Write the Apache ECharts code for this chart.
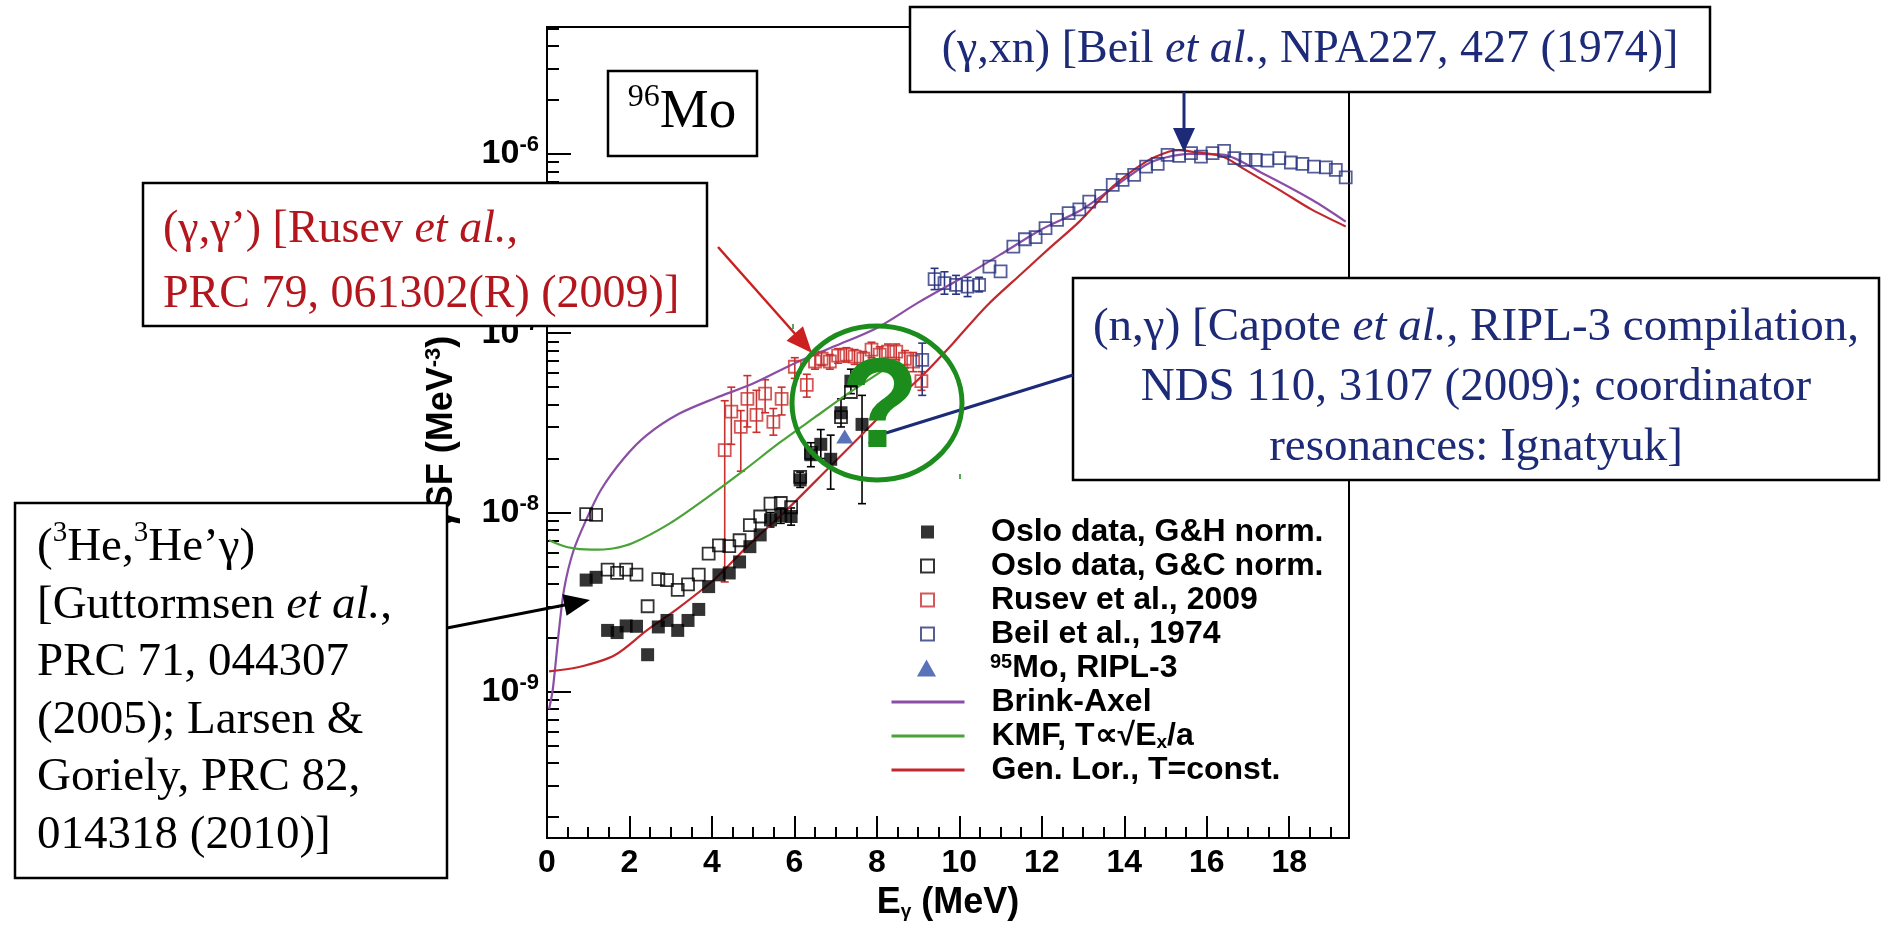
<!DOCTYPE html>
<html>
<head>
<meta charset="utf-8">
<script src="https://cdn.jsdelivr.net/npm/echarts@6/dist/echarts.min.js"></script>
<style>
  html, body { margin: 0; padding: 0; background: #fff; }
  #chart { width: 1884px; height: 930px; }
</style>
</head>
<body>
<div id="chart"></div>
<script>
// ---- axis ticks (photon energy in MeV, strength in MeV^-3) ----
const xMajor = [0, 2, 4, 6, 8, 10, 12, 14, 16, 18];
const xMinor = [0.5, 1, 1.5, 2.5, 3, 3.5, 4.5, 5, 5.5, 6.5, 7, 7.5, 8.5, 9, 9.5,
                10.5, 11, 11.5, 12.5, 13, 13.5, 14.5, 15, 15.5, 16.5, 17, 17.5, 18.5, 19];
const yMajor = [1e-9, 1e-8, 1e-7, 1e-6];
const yMinor = [2e-10, 3e-10, 4e-10, 5e-10, 6e-10, 7e-10, 8e-10, 9e-10,
                2e-9, 3e-9, 4e-9, 5e-9, 6e-9, 7e-9, 8e-9, 9e-9,
                2e-8, 3e-8, 4e-8, 5e-8, 6e-8, 7e-8, 8e-8, 9e-8,
                2e-7, 3e-7, 4e-7, 5e-7, 6e-7, 7e-7, 8e-7, 9e-7,
                2e-6, 3e-6, 4e-6, 5e-6];

// ---- measured strength functions [E, f] ----
const osloGH = [
  [0.95, 4.2e-9], [1.19, 4.35e-9], [1.47, 2.2e-9], [1.70, 2.14e-9], [1.92, 2.33e-9],
  [2.17, 2.32e-9], [2.44, 1.61e-9], [2.70, 2.3e-9], [2.91, 2.5e-9], [3.17, 2.2e-9],
  [3.42, 2.5e-9], [3.68, 2.88e-9], [3.92, 3.86e-9], [4.17, 4.49e-9], [4.42, 4.6e-9],
  [4.67, 5.3e-9], [4.92, 6.45e-9], [5.17, 7.5e-9], [5.42, 9.1e-9], [5.67, 9.6e-9],
  [5.92, 9.5e-9], [6.14, 1.52e-8], [6.40, 2.1e-8], [6.64, 2.4e-8], [6.88, 1.98e-8],
  [7.13, 3.6e-8], [7.37, 5.4e-8], [7.64, 3.1e-8]
];
const osloGHErr = [
  [5.42, 8.3e-9, 1.0e-8], [5.67, 8.7e-9, 1.06e-8], [5.92, 8.5e-9, 1.06e-8],
  [6.14, 1.38e-8, 1.68e-8], [6.40, 1.8e-8, 2.45e-8], [6.64, 2.0e-8, 2.9e-8],
  [6.88, 1.35e-8, 2.7e-8], [7.13, 3.0e-8, 4.3e-8], [7.37, 4.6e-8, 6.3e-8],
  [7.64, 1.12e-8, 4.5e-8]
];
const osloGC = [
  [0.95, 9.8e-9], [1.19, 9.7e-9], [1.47, 4.8e-9], [1.70, 4.6e-9], [1.92, 4.8e-9],
  [2.17, 4.5e-9], [2.44, 3.0e-9], [2.70, 4.25e-9], [2.91, 4.2e-9], [3.17, 3.7e-9],
  [3.42, 3.97e-9], [3.68, 4.5e-9], [3.92, 5.9e-9], [4.17, 6.55e-9], [4.42, 6.5e-9],
  [4.67, 7.0e-9], [4.92, 8.5e-9], [5.17, 9.5e-9], [5.42, 1.12e-8], [5.67, 1.13e-8],
  [5.92, 1.07e-8], [6.14, 1.58e-8], [6.40, 2.15e-8], [7.13, 3.4e-8], [7.37, 4.7e-8]
];
const rusev = [
  [4.31, 2.23e-8], [4.47, 3.65e-8], [4.70, 3.0e-8], [4.86, 4.3e-8], [5.08, 3.5e-8],
  [5.29, 4.6e-8], [5.49, 3.2e-8], [5.69, 4.3e-8], [6.01, 6.5e-8], [6.30, 5.15e-8],
  [6.50, 6.95e-8], [6.66, 7.2e-8], [6.86, 6.95e-8], [7.06, 7.5e-8], [7.26, 7.6e-8],
  [7.46, 7.4e-8], [7.67, 7.2e-8], [7.87, 8.1e-8], [8.07, 7.6e-8], [8.27, 7.9e-8],
  [8.47, 7.9e-8], [8.68, 7.2e-8], [8.88, 6.95e-8], [9.08, 5.4e-8]
];
const rusevErr = [
  [4.31, 4.1e-9, 4.2e-8], [4.47, 2.4e-8, 5.0e-8], [4.70, 1.7e-8, 3.7e-8],
  [4.86, 3.0e-8, 5.8e-8], [5.08, 2.8e-8, 4.8e-8], [5.29, 3.6e-8, 5.5e-8],
  [5.49, 2.7e-8, 3.8e-8], [5.69, 3.5e-8, 5.0e-8], [6.01, 5.6e-8, 7.3e-8],
  [6.30, 4.4e-8, 5.9e-8], [6.50, 6.3e-8, 7.6e-8], [6.66, 6.6e-8, 7.9e-8],
  [6.86, 6.3e-8, 7.6e-8], [7.06, 6.8e-8, 8.2e-8], [7.26, 6.9e-8, 8.3e-8],
  [7.46, 6.7e-8, 8.1e-8], [7.67, 6.5e-8, 7.9e-8], [7.87, 7.3e-8, 8.9e-8],
  [8.07, 6.9e-8, 8.4e-8], [8.27, 7.1e-8, 8.7e-8], [8.47, 7.1e-8, 8.7e-8],
  [8.68, 6.4e-8, 8.0e-8], [8.88, 6.1e-8, 7.8e-8], [9.08, 4.8e-8, 6.1e-8]
];
const beil = [
  [9.10, 7.1e-8], [9.40, 2.0e-7], [9.64, 1.9e-7], [9.92, 1.86e-7], [10.20, 1.82e-7],
  [10.48, 1.86e-7], [10.73, 2.35e-7], [11.00, 2.21e-7], [11.31, 3.04e-7], [11.59, 3.34e-7],
  [11.85, 3.43e-7], [12.09, 3.85e-7], [12.37, 4.28e-7], [12.65, 4.67e-7], [12.91, 4.9e-7],
  [13.15, 5.42e-7], [13.44, 5.83e-7], [13.72, 6.71e-7], [13.96, 7.16e-7], [14.24, 7.63e-7],
  [14.53, 8.49e-7], [14.81, 8.8e-7], [15.05, 9.87e-7], [15.33, 9.75e-7], [15.62, 1.01e-6],
  [15.86, 9.66e-7], [16.14, 1.01e-6], [16.42, 1.04e-6], [16.67, 9.46e-7], [16.94, 9.26e-7],
  [17.19, 9.26e-7], [17.47, 9.17e-7], [17.76, 9.46e-7], [18.04, 8.95e-7], [18.32, 8.8e-7],
  [18.60, 8.5e-7], [18.89, 8.4e-7], [19.13, 8.14e-7], [19.37, 7.4e-7]
];
const beilErr = [
  [9.10, 4.5e-8, 8.8e-8], [9.40, 1.75e-7, 2.3e-7], [9.64, 1.65e-7, 2.2e-7],
  [9.92, 1.65e-7, 2.1e-7], [10.20, 1.6e-7, 2.05e-7], [10.48, 1.7e-7, 2.05e-7]
];
const ripl = [[7.22, 2.65e-8], [7.98, 2.65e-8]];

// ---- model curves [E, f] ----
const brinkAxel = [
  [0.05, 8.0e-10], [0.14, 1.03e-9], [0.29, 2.2e-9], [0.42, 3.8e-9], [0.64, 6.1e-9],
  [0.95, 9.1e-9], [1.31, 1.34e-8], [1.86, 2.0e-8], [2.42, 2.7e-8], [3.20, 3.55e-8],
  [4.09, 4.35e-8], [4.97, 5.2e-8], [6.01, 6.8e-8], [7.0, 8.5e-8], [8.0, 1.07e-7],
  [9.0, 1.48e-7], [10.0, 2.0e-7], [11.0, 2.75e-7], [12.0, 3.8e-7], [12.91, 4.8e-7],
  [13.72, 6.45e-7], [14.53, 8.7e-7], [15.0, 9.55e-7], [15.6, 1.0e-6], [16.38, 9.9e-7],
  [17.35, 7.8e-7], [18.56, 5.53e-7], [19.37, 4.19e-7]
];
const kmf = [
  [0.05, 7.0e-9], [0.5, 6.4e-9], [1.08, 6.2e-9], [1.6, 6.3e-9], [2.08, 6.75e-9],
  [2.98, 8.7e-9], [3.86, 1.2e-8], [4.75, 1.7e-8], [5.64, 2.45e-8], [6.5, 3.4e-8],
  [7.3, 4.6e-8], [8.15, 6.2e-8]
];
const genLor = [
  [0.05, 1.3e-9], [0.75, 1.37e-9], [1.64, 1.6e-9], [2.42, 2.2e-9], [3.20, 2.95e-9],
  [4.09, 4.3e-9], [4.98, 6.9e-9], [5.73, 9.9e-9], [6.86, 1.8e-8], [7.67, 2.77e-8],
  [8.47, 4.25e-8], [9.08, 5.73e-8], [9.85, 8.8e-8], [10.65, 1.41e-7], [11.5, 2.14e-7],
  [12.2, 3.0e-7], [12.91, 4.19e-7], [13.72, 6.57e-7], [14.53, 9.06e-7], [15.09, 1.03e-6],
  [15.33, 1.05e-6], [15.62, 1.03e-6], [16.38, 9.66e-7], [16.94, 8.14e-7], [17.76, 6.3e-7],
  [18.56, 4.87e-7], [19.37, 3.94e-7]
];

const squareNames = ['Oslo data, G&H norm.', 'Oslo data, G&C norm.', 'Rusev et al., 2009', 'Beil et al., 1974'];
const triangleName = '95Mo, RIPL-3';
const curveNames = ['Brink-Axel', 'KMF, T∝√Ex/a', 'Gen. Lor., T=const.'];

const SANS = '"Liberation Sans", Arial, sans-serif';
const SERIF = '"Liberation Serif", "Times New Roman", serif';
const NAVY = '#1c2a78';
const RED = '#b3161c';
const GREEN = '#1c8c1c';

function errorBars(data, color) {
  return {
    type: 'custom',
    data: data,
    silent: true,
    z: 2,
    encode: { x: 0, y: [1, 2] },
    renderItem: function (params, api) {
      const x = api.value(0);
      const lo = api.coord([x, api.value(1)]);
      const hi = api.coord([x, api.value(2)]);
      const w = 4;
      const st = { stroke: color, lineWidth: 1.6 };
      return {
        type: 'group',
        children: [
          { type: 'line', shape: { x1: lo[0], y1: lo[1], x2: hi[0], y2: hi[1] }, style: st },
          { type: 'line', shape: { x1: lo[0] - w, y1: lo[1], x2: lo[0] + w, y2: lo[1] }, style: st },
          { type: 'line', shape: { x1: hi[0] - w, y1: hi[1], x2: hi[0] + w, y2: hi[1] }, style: st }
        ]
      };
    }
  };
}

function curve(name, data, color) {
  return {
    name: name, type: 'line', data: data, smooth: 0.3, symbol: 'none', z: 3,
    lineStyle: { color: color, width: 2.2 }, itemStyle: { color: color }
  };
}

function openSquares(name, data, color) {
  return {
    name: name, type: 'scatter', data: data, symbol: 'rect', symbolSize: 12, z: 4,
    itemStyle: { color: 'rgba(255,255,255,0)', borderColor: color, borderWidth: 1.8 }
  };
}

function arrow(x1, y1, x2, y2, color, lw, hl, hw) {
  const dx = x2 - x1, dy = y2 - y1, L = Math.hypot(dx, dy);
  const ux = dx / L, uy = dy / L;
  const bx = x2 - ux * hl, by = y2 - uy * hl;
  return [
    { type: 'line', z: 100, shape: { x1: x1, y1: y1, x2: bx + ux * 3, y2: by + uy * 3 },
      style: { stroke: color, lineWidth: lw } },
    { type: 'polygon', z: 100,
      shape: { points: [[x2, y2], [bx - uy * hw / 2, by + ux * hw / 2], [bx + uy * hw / 2, by - ux * hw / 2]] },
      style: { fill: color } }
  ];
}

function box(x, y, w, h) {
  return { type: 'rect', z: 100, shape: { x: x, y: y, width: w, height: h },
           style: { fill: '#fff', stroke: '#000', lineWidth: 2.5 } };
}

function italic(size) {
  return { i: { fontFamily: SERIF, fontStyle: 'italic', fontSize: size } };
}

function handle(x, y) {
  return { type: 'line', z: 102, shape: { x1: x, y1: y, x2: x, y2: y + 5 },
           style: { stroke: GREEN, lineWidth: 1.5 } };
}

const annotations = [
  // 96Mo label
  box(608, 71, 149, 85),
  { type: 'text', z: 101, x: 682, y: 113,
    style: { text: '{s|96}{m|Mo}', align: 'center', verticalAlign: 'middle', fill: '#000',
             rich: { s: { fontFamily: SERIF, fontSize: 32, lineHeight: 38, verticalAlign: 'top' },
                     m: { fontFamily: SERIF, fontSize: 55, lineHeight: 62 } } } },
  // (gamma,xn) reference
  box(910, 7, 800, 85),
  { type: 'text', z: 101, x: 1310, y: 50,
    style: { text: '(γ,xn) [Beil {i|et al.}, NPA227, 427 (1974)]', align: 'center', verticalAlign: 'middle',
             fill: NAVY, font: '46px ' + SERIF, rich: italic(46) } },
  ...arrow(1184, 92, 1184, 152, NAVY, 3, 24, 22),
  // (gamma,gamma') reference
  box(143, 183, 564, 143),
  { type: 'text', z: 101, x: 163, y: 230,
    style: { text: '(γ,γ’) [Rusev {i|et al.},', align: 'left', verticalAlign: 'middle', fill: RED,
             font: '46px ' + SERIF, rich: italic(46) } },
  { type: 'text', z: 101, x: 163, y: 295,
    style: { text: 'PRC 79, 061302(R) (2009)]', align: 'left', verticalAlign: 'middle', fill: RED,
             font: '46px ' + SERIF } },
  ...arrow(718, 247, 812, 353, '#cc1f1f', 2.5, 26, 22),
  // (n,gamma) reference
  box(1073, 278, 806, 202),
  { type: 'text', z: 101, x: 1476, y: 328,
    style: { text: '(n,γ) [Capote {i|et al.}, RIPL-3 compilation,', align: 'center', verticalAlign: 'middle',
             fill: NAVY, font: '47px ' + SERIF, rich: italic(47) } },
  { type: 'text', z: 101, x: 1476, y: 388,
    style: { text: 'NDS 110, 3107 (2009); coordinator', align: 'center', verticalAlign: 'middle',
             fill: NAVY, font: '47px ' + SERIF } },
  { type: 'text', z: 101, x: 1476, y: 448,
    style: { text: 'resonances: Ignatyuk]', align: 'center', verticalAlign: 'middle',
             fill: NAVY, font: '47px ' + SERIF } },
  { type: 'line', z: 100, shape: { x1: 1073, y1: 375, x2: 886, y2: 433 },
    style: { stroke: NAVY, lineWidth: 3 } },
  // (3He,3He'gamma) reference
  box(15, 503, 432, 375),
  { type: 'text', z: 101, x: 37, y: 519,
    style: {
      text: '({sup|3}He,{sup|3}He’γ)\n[Guttormsen {i|et al.},\nPRC 71, 044307\n(2005); Larsen &\nGoriely, PRC 82,\n014318 (2010)]',
      align: 'left', verticalAlign: 'top', fill: '#000', font: '47px ' + SERIF, lineHeight: 57.5,
      rich: { i: { fontFamily: SERIF, fontStyle: 'italic', fontSize: 47, lineHeight: 57.5 },
              sup: { fontFamily: SERIF, fontSize: 29, lineHeight: 29, verticalAlign: 'top' } } } },
  ...arrow(447, 628, 590, 600, '#000', 3, 26, 22),
  // open-question marker around the (n,gamma) points
  { type: 'ellipse', z: 102, shape: { cx: 877, cy: 403, rx: 85, ry: 77 },
    style: { fill: 'none', stroke: GREEN, lineWidth: 5 } },
  { type: 'text', z: 102, x: 880, y: 412,
    style: { text: '?', align: 'center', verticalAlign: 'middle', fill: GREEN,
             font: 'bold 128px ' + SANS } },
  handle(793, 324), handle(960, 474)
];

const chart = echarts.init(document.getElementById('chart'), null, { renderer: 'canvas' });

const axisFont = { fontFamily: SANS, fontWeight: 'bold', color: '#000' };
const legendText = { ...axisFont, fontSize: 32, lineHeight: 32 };

chart.setOption({
  animation: false,
  backgroundColor: '#fff',
  grid: { left: 547, top: 27, width: 802, height: 811, show: true, borderColor: '#000', borderWidth: 2 },
  xAxis: [
    {
      type: 'value', min: 0, max: 19.45, position: 'bottom',
      axisLine: { show: true, onZero: false, lineStyle: { color: '#000', width: 2 } },
      axisTick: { show: true, inside: true, length: 22, customValues: xMajor, lineStyle: { color: '#000', width: 2 } },
      axisLabel: { customValues: xMajor, margin: 9, fontSize: 32, lineHeight: 32, ...axisFont },
      splitLine: { show: false },
      name: 'E{sub|γ} (MeV)', nameLocation: 'middle', nameGap: 47,
      nameTextStyle: { ...axisFont, fontSize: 36, lineHeight: 36,
        rich: { sub: { ...axisFont, fontSize: 19, lineHeight: 4, verticalAlign: 'bottom' } } }
    },
    {
      type: 'value', min: 0, max: 19.45, position: 'bottom',
      axisLine: { show: false },
      axisTick: { show: true, inside: true, length: 11, customValues: xMinor, lineStyle: { color: '#000', width: 2 } },
      axisLabel: { show: false }, splitLine: { show: false }
    }
  ],
  yAxis: [
    {
      type: 'log', logBase: 10, min: 1.53e-10, max: 5.1e-6, position: 'left',
      axisLine: { show: true, lineStyle: { color: '#000', width: 2 } },
      axisTick: { show: true, inside: true, length: 24, customValues: yMajor, lineStyle: { color: '#000', width: 2 } },
      axisLabel: {
        customValues: yMajor, margin: 8,
        formatter: function (v) { return '{b|10}{s|' + Math.round(Math.log10(v)) + '}'; },
        rich: {
          b: { ...axisFont, fontSize: 34, lineHeight: 40 },
          s: { ...axisFont, fontSize: 22, lineHeight: 16, verticalAlign: 'top' }
        }
      },
      splitLine: { show: false }, minorTick: { show: false },
      name: 'γSF (MeV{sup|-3})', nameLocation: 'middle', nameGap: 86,
      nameTextStyle: { ...axisFont, fontSize: 36, lineHeight: 38,
        rich: { sup: { ...axisFont, fontSize: 22, lineHeight: 14, verticalAlign: 'top' } } }
    },
    {
      type: 'log', logBase: 10, min: 1.53e-10, max: 5.1e-6, position: 'left',
      axisLine: { show: false },
      axisTick: { show: true, inside: true, length: 12, customValues: yMinor, lineStyle: { color: '#000', width: 2 } },
      axisLabel: { show: false }, splitLine: { show: false }
    }
  ],
  legend: [
    {
      orient: 'vertical', left: 920, top: 516, padding: 0,
      itemWidth: 13, itemHeight: 13, itemGap: 2, selectedMode: false,
      data: squareNames,
      textStyle: { ...legendText, padding: [0, 0, 0, 52] }
    },
    {
      orient: 'vertical', left: 917, top: 652, padding: 0,
      itemWidth: 19, itemHeight: 17, itemGap: 2, selectedMode: false,
      data: [triangleName],
      formatter: function () { return '{sup|95}Mo, RIPL-3'; },
      textStyle: { ...legendText, padding: [0, 0, 0, 49],
        rich: { sup: { ...axisFont, fontSize: 20, lineHeight: 8, verticalAlign: 'top' } } }
    },
    {
      orient: 'vertical', left: 890, top: 686, padding: 0,
      itemWidth: 73, itemHeight: 14, itemGap: 2, selectedMode: false,
      data: curveNames.map(function (n) { return { name: n, itemStyle: { opacity: 0 } }; }),
      lineStyle: { width: 3 },
      formatter: function (name) {
        return name === curveNames[1] ? 'KMF, T∝√E{sub|x}/a' : name;
      },
      textStyle: { ...legendText, padding: [0, 0, 0, 22],
        rich: { sub: { ...axisFont, fontSize: 19, lineHeight: 6, verticalAlign: 'bottom' } } }
    }
  ],
  series: [
    errorBars(osloGHErr, '#000'),
    errorBars(rusevErr, '#c8302e'),
    errorBars(beilErr, '#2a3580'),
    {
      name: squareNames[0], type: 'scatter', data: osloGH, symbol: 'rect', symbolSize: 13, z: 5,
      itemStyle: { color: '#000' }
    },
    openSquares(squareNames[1], osloGC, '#000'),
    openSquares(squareNames[2], rusev, '#c8302e'),
    openSquares(squareNames[3], beil, '#2a3580'),
    {
      name: triangleName, type: 'scatter', data: ripl, symbol: 'triangle', symbolSize: [17, 14], z: 6,
      itemStyle: { color: '#2f4fa8' }
    },
    curve(curveNames[0], brinkAxel, '#8b4ea6'),
    curve(curveNames[1], kmf, '#4aa336'),
    curve(curveNames[2], genLor, '#c2272d')
  ],
  graphic: { elements: annotations }
});
</script>
</body>
</html>
